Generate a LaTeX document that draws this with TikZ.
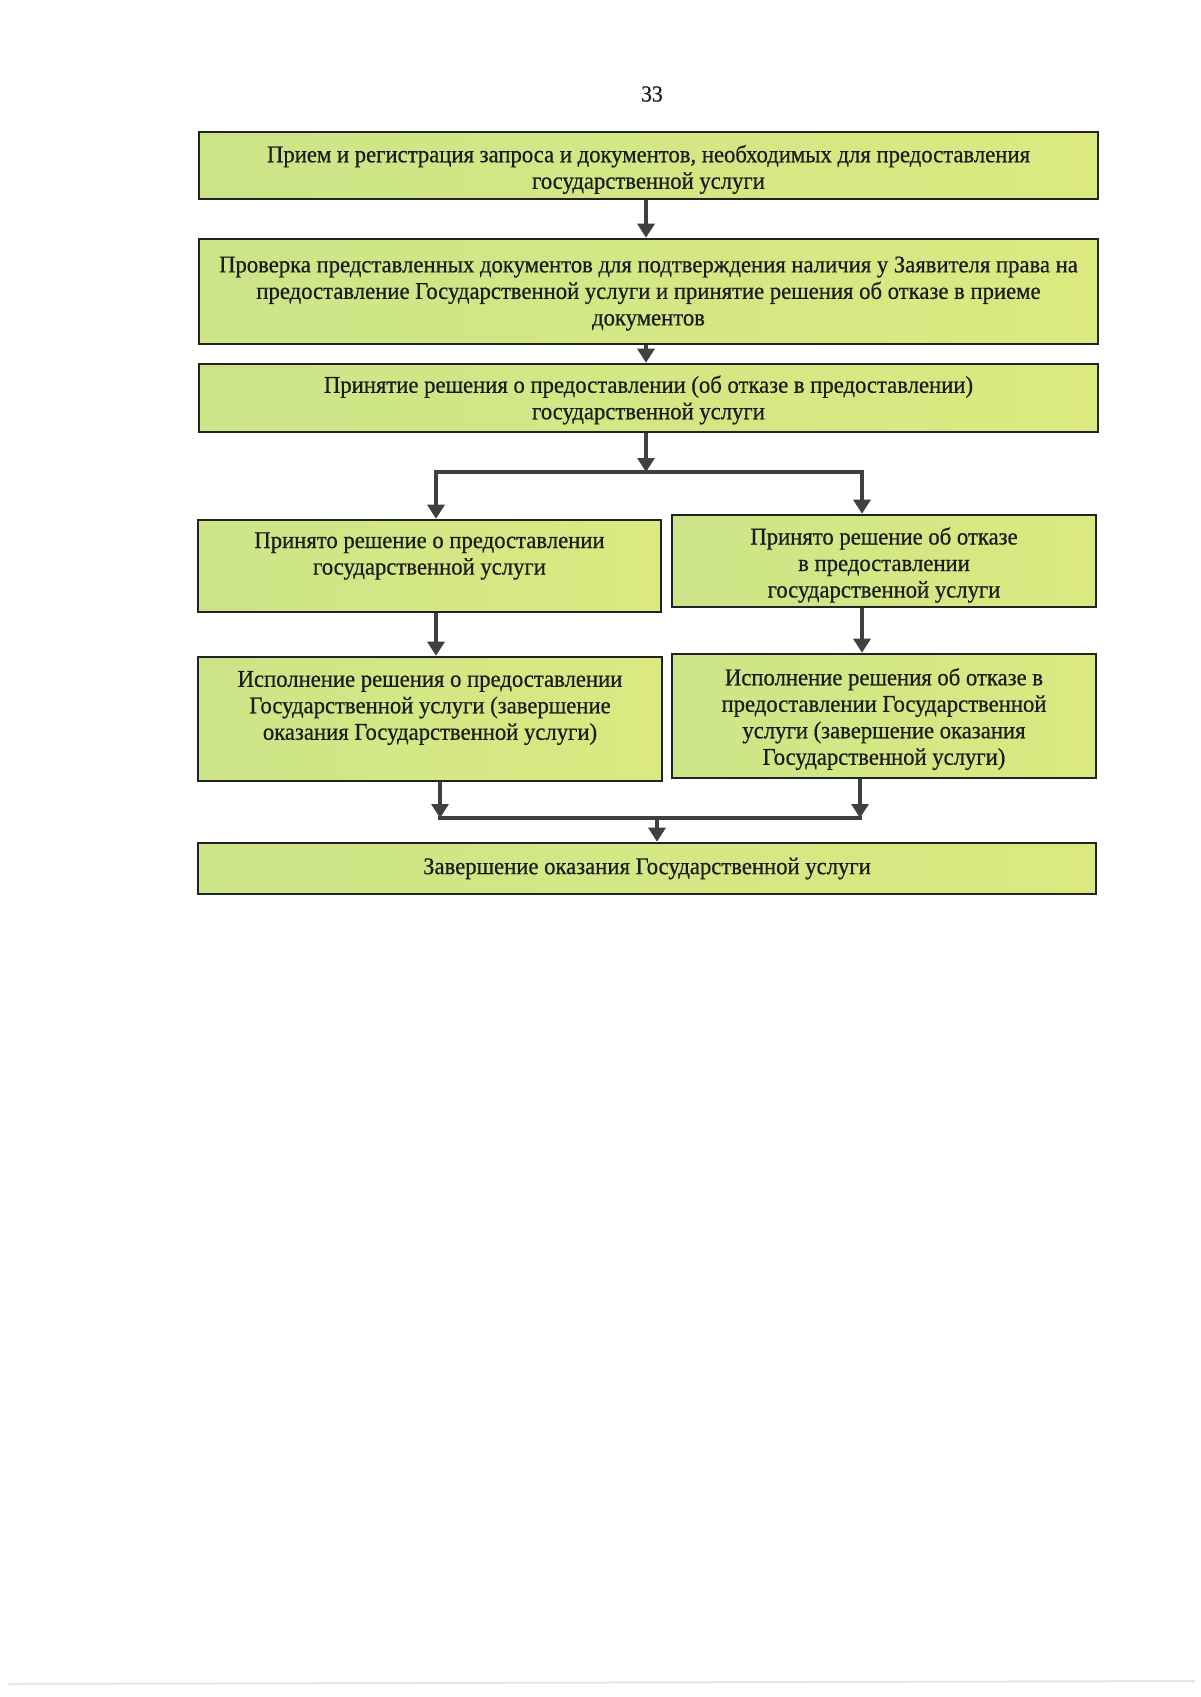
\documentclass[tikz,border=0pt]{standalone}
\usepackage{fontspec}
\setmainfont{Liberation Serif}[FakeStretch=0.945, FakeBold=0.6]
\usetikzlibrary{arrows.meta}
\definecolor{fillL}{RGB}{204,229,136}
\definecolor{fillR}{RGB}{219,233,128}
\definecolor{boxline}{RGB}{35,35,35}
\definecolor{arrowc}{RGB}{64,64,64}
\definecolor{txt}{RGB}{28,28,28}
\begin{document}
\begin{tikzpicture}[x=1pt,y=-1pt,
  stepbox/.style={draw=boxline, line width=2.6pt, left color=fillL, right color=fillR, inner sep=0pt},
  steptext/.style={align=center, text=txt, inner sep=0pt, font=\fontsize{24}{26.5}\selectfont},
  arr/.style={draw=arrowc, line width=3.1pt, -{Triangle[width=17pt,length=14pt]}},
  ln/.style={draw=arrowc, line width=3.1pt}]
\useasboundingbox (0,0) rectangle (1200,1697);
\fill[white] (0,0) rectangle (1200,1697);
\node[text=txt, font=\fontsize{23}{26}\selectfont] (pg) at (652,94) {33};
% boxes
\node[stepbox, minimum width=899pt, minimum height=67pt]  (b1)  at (648.5,165.5) {};
\node[stepbox, minimum width=899pt, minimum height=105pt] (b2)  at (648.5,291.5) {};
\node[stepbox, minimum width=899pt, minimum height=68pt]  (b3)  at (648.5,398) {};
\node[stepbox, minimum width=463pt, minimum height=92pt]  (b4l) at (429.5,566) {};
\node[stepbox, minimum width=424pt, minimum height=92pt]  (b4r) at (884,561) {};
\node[stepbox, minimum width=464pt, minimum height=124pt] (b5l) at (430,719) {};
\node[stepbox, minimum width=424pt, minimum height=124pt] (b5r) at (884,716) {};
\node[stepbox, minimum width=898pt, minimum height=51pt]  (b6)  at (647,868.5) {};
% texts
\node[steptext] (t1) at ([yshift=-4pt]b1.center)
  {Прием и регистрация запроса и документов, необходимых для предоставления\\ государственной услуги};
\node[steptext] (t2) at ([yshift=-2pt]b2.center)
  {Проверка представленных документов для подтверждения наличия у Заявителя права на\\ предоставление Государственной услуги и принятие решения об отказе в приеме\\ документов};
\node[steptext] (t3) at ([yshift=-2pt]b3.center)
  {Принятие решения о предоставлении (об отказе в предоставлении)\\ государственной услуги};
\node[steptext] (t4l) at ([yshift=10pt]b4l.center)
  {Принято решение о предоставлении\\ государственной услуги};
\node[steptext] (t4r) at ([yshift=-4pt]b4r.center)
  {Принято решение об отказе\\ в предоставлении\\ государственной услуги};
\node[steptext] (t5l) at ([yshift=11pt]b5l.center)
  {Исполнение решения о предоставлении\\ Государственной услуги (завершение\\ оказания Государственной услуги)};
\node[steptext] (t5r) at ([yshift=-3pt]b5r.center)
  {Исполнение решения об отказе в\\ предоставлении Государственной\\ услуги (завершение оказания\\ Государственной услуги)};
\node[steptext] (t6) at ([yshift=0pt]b6.center)
  {Завершение оказания Государственной услуги};
% junction coordinates
\coordinate (a1) at (646,0);
\coordinate (jc) at (646,472);
\coordinate (jl) at (436,472);
\coordinate (jr) at (862,472);
\coordinate (kl) at (440,818);
\coordinate (kr) at (860,818);
\coordinate (kc) at (657,818);
% connectors
\draw[arr] (a1 |- b1.south) -- (a1 |- b2.north);
\draw[arr] (a1 |- b2.south) -- (a1 |- b3.north);
\draw[arr] (jc |- b3.south) -- (jc);
\draw[ln] ([xshift=-1.55pt]jl) -- ([xshift=1.55pt]jr);
\draw[arr] (jl) -- (jl |- b4l.north);
\draw[arr] (jr) -- (jr |- b4r.north);
\draw[arr] (jl |- b4l.south) -- (jl |- b5l.north);
\draw[arr] (jr |- b4r.south) -- (jr |- b5r.north);
\draw[arr] (kl |- b5l.south) -- (kl);
\draw[arr] (kr |- b5r.south) -- (kr);
\draw[ln] ([xshift=-1.55pt]kl) -- ([xshift=1.55pt]kr);
\draw[arr] (kc) -- (kc |- b6.north);
% faint scan line at page bottom
\draw[black!12, line width=1.5pt] (8,1684) -- (1195,1681);
\end{tikzpicture}
\end{document}
